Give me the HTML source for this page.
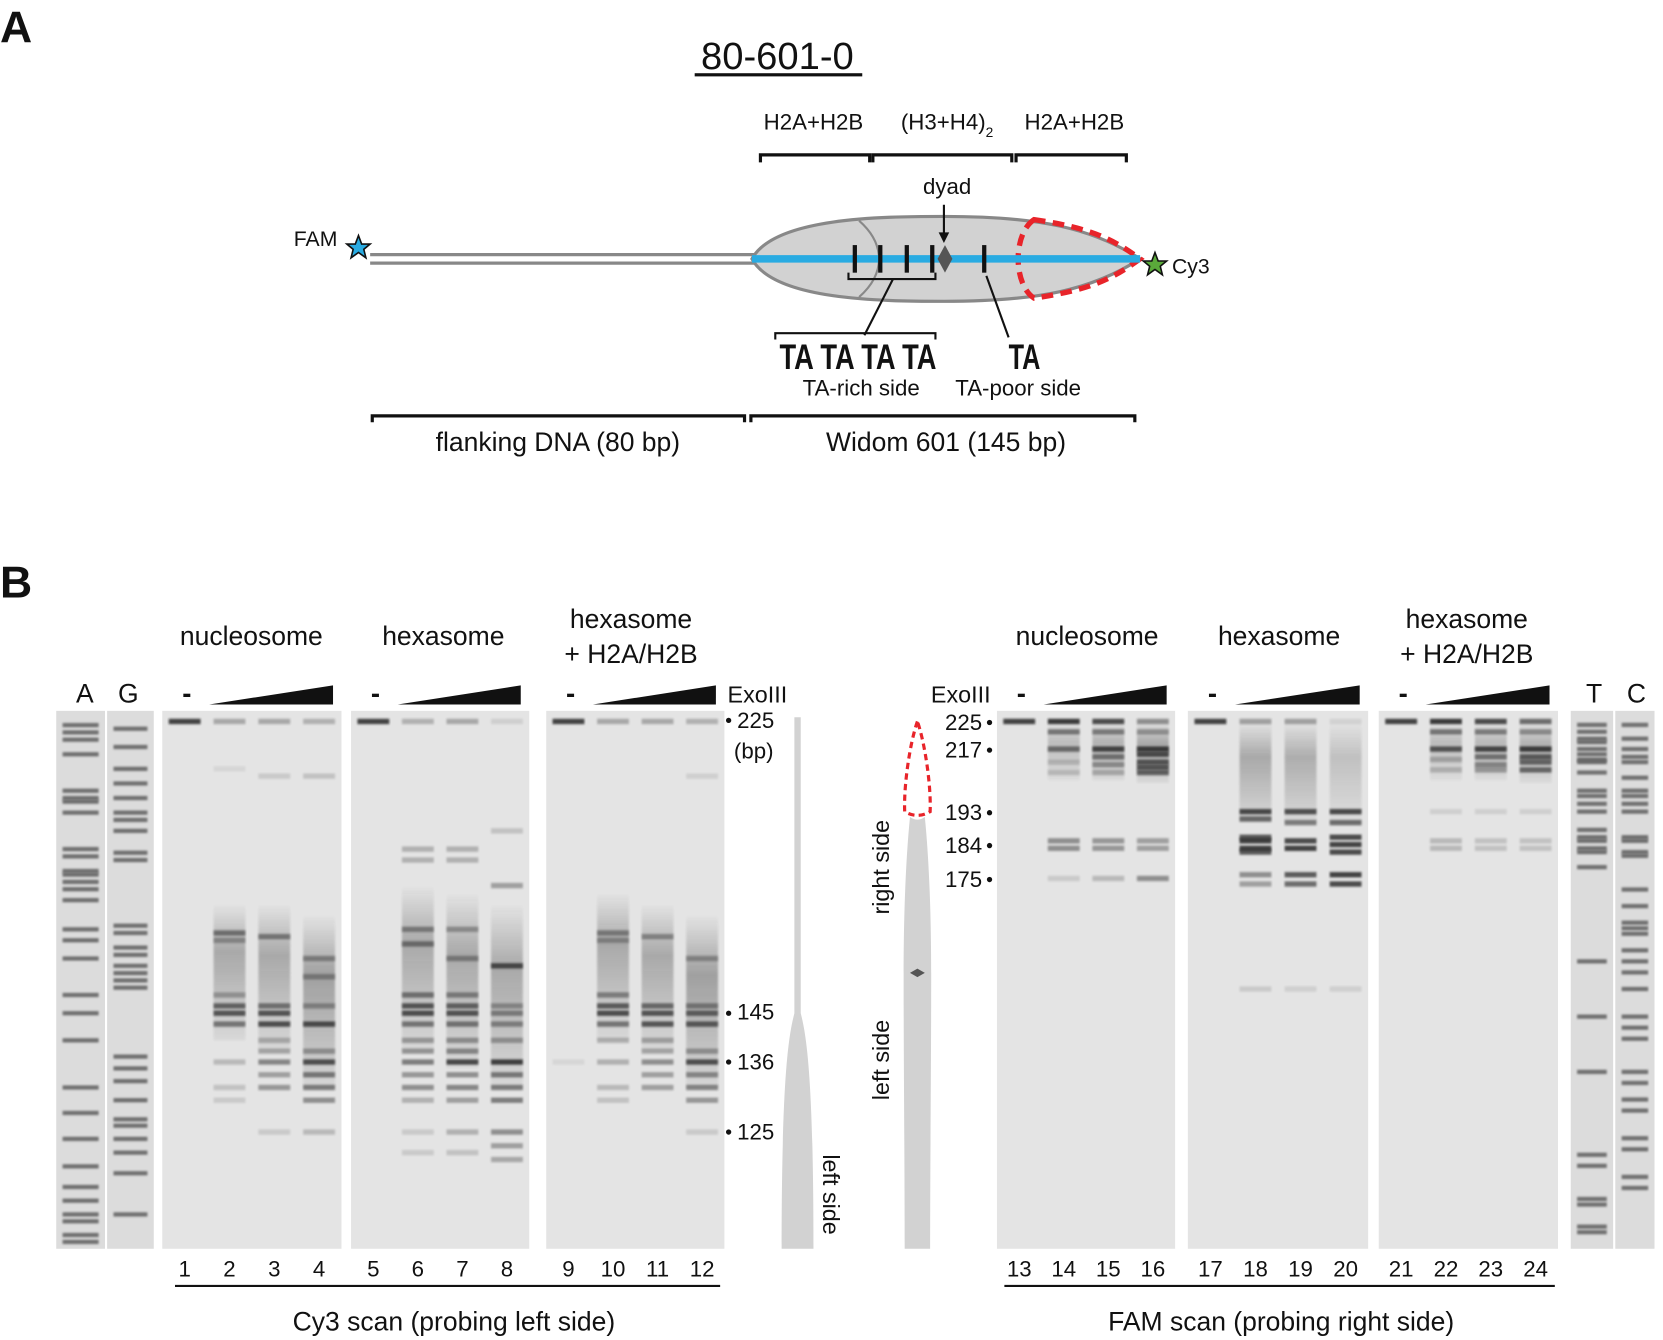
<!DOCTYPE html>
<html><head><meta charset="utf-8"><style>
html,body{margin:0;padding:0;background:#fff}
svg{display:block}
text{font-family:"Liberation Sans",Arial,sans-serif;fill:#111}
</style></head><body>
<svg id="fig" width="1663" height="1340" viewBox="0 0 1568 1263" preserveAspectRatio="none" xmlns="http://www.w3.org/2000/svg">
<defs>
<filter id="soft" x="-5%" y="-80%" width="110%" height="260%"><feGaussianBlur stdDeviation="1.1"/></filter>
<linearGradient id="smearG" x1="0" y1="0" x2="0" y2="1"><stop offset="0" stop-color="#222" stop-opacity="0"/><stop offset="0.35" stop-color="#222" stop-opacity="1"/><stop offset="1" stop-color="#222" stop-opacity="0.2"/></linearGradient>
</defs>
<!-- PANEL A -->
<g>
<text x="0" y="40" font-size="42" font-weight="bold">A</text>
<text x="733" y="65" font-size="36" text-anchor="middle">80-601-0</text>
<rect x="655" y="69" width="158" height="3" fill="#111"/>
<text x="767" y="122" font-size="21" text-anchor="middle">H2A+H2B</text>
<text x="893" y="122" font-size="21" text-anchor="middle">(H3+H4)<tspan font-size="13" dy="7">2</tspan></text>
<text x="1013" y="122" font-size="21" text-anchor="middle">H2A+H2B</text>
<g stroke="#111" stroke-width="3" fill="none">
<path d="M717 153V146H820V153"/><path d="M823 153V146H954V153"/><path d="M958 153V146H1062V153"/>
</g>
<text x="893" y="183" font-size="21" text-anchor="middle">dyad</text>
<line x1="349" y1="240" x2="712" y2="240" stroke="#888" stroke-width="3"/>
<line x1="349" y1="248" x2="712" y2="248" stroke="#888" stroke-width="3"/>
<path d="M709 244C730 205 830 204 890 204C980 204 1030 215 1075 244C1030 273 980 284 890 284C830 284 730 283 709 244Z" fill="#d2d2d2" stroke="#888" stroke-width="3"/>
<path d="M810 208C835 230 835 258 810 280" fill="none" stroke="#888" stroke-width="2"/>
<line x1="890" y1="193" x2="890" y2="222" stroke="#111" stroke-width="2"/>
<path d="M885 219L890 229L895 219Z" fill="#111"/>
<path d="M975 207C955 220 955 268 975 281C1030 273 1050 262 1075 244C1050 226 1030 215 975 207Z" fill="none" stroke="#e8242a" stroke-width="5" stroke-dasharray="11 7"/>
<line x1="709" y1="244" x2="1075" y2="244" stroke="#29abe2" stroke-width="7"/>
<g stroke="#111" stroke-width="4"><line x1="806" y1="231" x2="806" y2="257"/><line x1="830" y1="231" x2="830" y2="257"/><line x1="855" y1="231" x2="855" y2="257"/><line x1="879" y1="231" x2="879" y2="257"/><line x1="928" y1="231" x2="928" y2="257"/></g>
<path d="M891 231L898 244L891 257L884 244Z" fill="#555"/>
<path d="M800 257V263H882V257" fill="none" stroke="#111" stroke-width="2"/>
<line x1="842" y1="263" x2="815" y2="316" stroke="#111" stroke-width="2"/>
<line x1="930" y1="260" x2="951" y2="318" stroke="#111" stroke-width="2"/>
<path d="M731 320V314H882V320" fill="none" stroke="#111" stroke-width="2"/>
<text x="809" y="348" font-size="33" font-weight="bold" text-anchor="middle" textLength="148" lengthAdjust="spacingAndGlyphs">TA TA TA TA</text>
<text x="966" y="348" font-size="33" font-weight="bold" text-anchor="middle" textLength="30" lengthAdjust="spacingAndGlyphs">TA</text>
<text x="812" y="373" font-size="21" text-anchor="middle">TA-rich side</text>
<text x="960" y="373" font-size="21" text-anchor="middle">TA-poor side</text>
<path d="M351 398V392H702V398" fill="none" stroke="#111" stroke-width="3"/>
<path d="M708 398V392H1070V398" fill="none" stroke="#111" stroke-width="3"/>
<text x="526" y="425" font-size="25" text-anchor="middle">flanking DNA (80 bp)</text>
<text x="892" y="425" font-size="25" text-anchor="middle">Widom 601 (145 bp)</text>
<path d="M338 222L341 230L349 230L343 235L345 243L338 238L331 243L333 235L327 230L335 230Z" fill="#29abe2" stroke="#111" stroke-width="1.5"/>
<text x="277" y="232" font-size="20">FAM</text>
<path d="M1089 238L1092 246L1100 246L1094 251L1096 259L1089 254L1082 259L1084 251L1078 246L1086 246Z" fill="#5aaa3a" stroke="#111" stroke-width="1.5"/>
<text x="1105" y="258" font-size="20">Cy3</text>
</g>
<!-- PANEL B static -->
<g>
<text x="0" y="563" font-size="42" font-weight="bold">B</text>
<g font-size="25" text-anchor="middle">
<text x="237" y="608">nucleosome</text>
<text x="418" y="608">hexasome</text>
<text x="595" y="592">hexasome</text>
<text x="595" y="625">+ H2A/H2B</text>
<text x="1025" y="608">nucleosome</text>
<text x="1206" y="608">hexasome</text>
<text x="1383" y="592">hexasome</text>
<text x="1383" y="625">+ H2A/H2B</text>
<text x="80" y="662">A</text><text x="121" y="662">G</text>
<text x="1503" y="662">T</text><text x="1543" y="662">C</text>
</g>
<text x="686" y="662" font-size="22">ExoIII</text>
<text x="934" y="662" font-size="22" text-anchor="end">ExoIII</text>
<g font-size="21">
<text x="695" y="686">225</text><text x="692" y="715">(bp)</text>
<text x="695" y="961">145</text><text x="695" y="1008">136</text><text x="695" y="1074">125</text>
<circle cx="687" cy="679" r="2.5" fill="#111"/><circle cx="687" cy="955" r="2.5" fill="#111"/><circle cx="687" cy="1001" r="2.5" fill="#111"/><circle cx="687" cy="1067" r="2.5" fill="#111"/>
</g>
<g font-size="21" text-anchor="end">
<text x="926" y="688">225</text><text x="926" y="714">217</text><text x="926" y="773">193</text><text x="926" y="804">184</text><text x="926" y="836">175</text>
<circle cx="933" cy="681" r="2.5" fill="#111"/><circle cx="933" cy="707" r="2.5" fill="#111"/><circle cx="933" cy="766" r="2.5" fill="#111"/><circle cx="933" cy="797" r="2.5" fill="#111"/><circle cx="933" cy="829" r="2.5" fill="#111"/>
</g>
<path d="M749 676H755V955C760 975 767 1010 767 1177H737C737 1010 744 975 749 955Z" fill="#d2d2d2"/>
<text transform="translate(776,1088) rotate(90)" font-size="22">left side</text>
<path d="M858 770Q865 775 872 770C877 820 878 880 878 917C878 1000 877 1100 877 1177H853C853 1100 852 1000 852 917C852 880 853 820 858 770Z" fill="#d2d2d2"/>
<path d="M865 680C858 700 852 740 853 765Q865 772 877 765C878 740 872 700 865 680Z" fill="none" stroke="#e8242a" stroke-width="3" stroke-dasharray="6 4"/>
<path d="M865 913L872 917L865 921L858 917Z" fill="#555"/>
<text transform="translate(838,862) rotate(-90)" font-size="22">right side</text>
<text transform="translate(838,1037) rotate(-90)" font-size="22">left side</text>
<line x1="165" y1="1212" x2="679" y2="1212" stroke="#111" stroke-width="2"/>
<line x1="947" y1="1212" x2="1466" y2="1212" stroke="#111" stroke-width="2"/>
<text x="428" y="1254" font-size="25" text-anchor="middle">Cy3 scan (probing left side)</text>
<text x="1208" y="1254" font-size="25" text-anchor="middle">FAM scan (probing right side)</text>
</g>
<g id="gels"></g>
</svg>
<script>
// ----- data -----
const leftMarkerBp = [225,145,136,125,108];
const rightMarkerBp = [225,217,193,184,175,108];
const laneNumbers = [1,2,3,4,5,6,7,8,9,10,11,12,13,14,15,16,17,18,19,20,21,22,23,24];
// bands per lane: [bp, intensity]
const lane1 = [[225,0.95]];
const lane2 = [[225,0.35],[212,0.08],[167,0.6],[165,0.4],[150,0.35],[147,0.7],[145,0.8],[143,0.6],[136,0.25],[132,0.2],[130,0.15]];
const lane3 = [[225,0.35],[210,0.15],[166,0.55],[147,0.6],[145,0.8],[143,0.85],[140,0.3],[138,0.35],[136,0.55],[134,0.4],[132,0.45],[125,0.15]];
const lane4 = [[225,0.3],[210,0.2],[160,0.45],[155,0.4],[147,0.4],[143,0.85],[138,0.4],[136,0.85],[134,0.6],[132,0.6],[130,0.5],[125,0.25]];
const lane5 = [[225,0.95]];
const lane6 = [[225,0.3],[190,0.3],[187,0.3],[168,0.5],[164,0.55],[150,0.6],[147,0.8],[145,0.85],[143,0.6],[140,0.4],[138,0.45],[136,0.6],[134,0.45],[132,0.5],[130,0.3],[125,0.15],[122,0.15]];
const lane7 = [[225,0.35],[190,0.3],[187,0.3],[168,0.4],[160,0.45],[150,0.5],[147,0.7],[145,0.8],[143,0.6],[140,0.45],[138,0.5],[136,0.9],[134,0.5],[132,0.55],[130,0.4],[125,0.3],[122,0.2]];
const lane8 = [[225,0.12],[195,0.2],[180,0.4],[158,0.85],[147,0.4],[145,0.5],[143,0.5],[140,0.4],[136,0.95],[134,0.6],[132,0.6],[130,0.6],[125,0.5],[123,0.4],[121,0.35]];
const lane9 = [[225,0.95],[136,0.08]];
const lane10 = [[225,0.35],[167,0.5],[165,0.4],[150,0.5],[147,0.75],[145,0.85],[143,0.6],[140,0.3],[136,0.3],[132,0.25],[130,0.2]];
const lane11 = [[225,0.35],[166,0.45],[147,0.65],[145,0.8],[143,0.8],[140,0.35],[138,0.35],[136,0.5],[134,0.4],[132,0.4]];
const lane12 = [[225,0.3],[210,0.12],[160,0.4],[147,0.5],[145,0.7],[143,0.75],[138,0.4],[136,0.85],[134,0.5],[132,0.55],[130,0.45],[125,0.15]];
const lane13 = [[225,0.95]];
const lane14 = [[225,1],[222,0.6],[217,0.65],[212,0.2],[208,0.2],[185,0.5],[183,0.5],[175,0.15]];
const lane15 = [[225,0.9],[222,0.55],[217,0.9],[214,0.6],[211,0.45],[208,0.3],[185,0.45],[183,0.45],[175,0.25]];
const lane16 = [[225,0.5],[222,0.4],[217,0.95],[215,0.85],[212,0.8],[210,0.8],[208,0.75],[185,0.4],[183,0.4],[175,0.5]];
const lane17 = [[225,0.95]];
const lane18 = [[225,0.4],[193,0.9],[191,0.7],[186,0.8],[185,0.95],[183,0.95],[182,0.8],[176,0.5],[174,0.4],[155,0.15]];
const lane19 = [[225,0.4],[193,0.85],[190,0.6],[185,0.9],[183,0.95],[176,0.8],[174,0.7],[155,0.12]];
const lane20 = [[225,0.1],[193,0.9],[190,0.7],[186,0.9],[184,0.95],[182,0.9],[176,0.95],[174,0.9],[155,0.12]];
const lane21 = [[225,0.95]];
const lane22 = [[225,1],[222,0.6],[217,0.8],[213,0.3],[209,0.25],[193,0.12],[185,0.25],[183,0.25]];
const lane23 = [[225,0.9],[222,0.55],[217,0.9],[214,0.6],[211,0.5],[209,0.4],[193,0.12],[185,0.2],[183,0.2]];
const lane24 = [[225,0.7],[222,0.45],[217,0.95],[214,0.75],[212,0.7],[209,0.7],[193,0.12],[185,0.2],[183,0.2]];
const laneBands = [lane1,lane2,lane3,lane4,lane5,lane6,lane7,lane8,lane9,lane10,lane11,lane12,lane13,lane14,lane15,lane16,lane17,lane18,lane19,lane20,lane21,lane22,lane23,lane24];
// smears: [topBp, bottomBp, intensity] per lane (null = none)
const laneSmears = [null,[175,140,0.3],[175,138,0.3],[172,132,0.35],null,[180,138,0.3],[178,135,0.3],[175,132,0.3],null,[178,140,0.3],[175,138,0.3],[172,132,0.35],
                    null,[225,205,0.2],[225,205,0.25],[225,204,0.3],null,[225,190,0.3],[225,190,0.28],[225,190,0.18],null,[225,205,0.2],[225,205,0.22],[225,204,0.25]];
const ladderA = [224,222,220,216,206,204,203,200,190,188,184,183,181,179,176,168,165,160,150,145,140,132,128,124,120,117,115,113,112,110,109];
const ladderG = [223,218,212,208,204,200,198,195,189,187,169,167,163,161,158,156,154,152,137,135,133,130,127,126,124,122,119,113];
const ladderT = [224,222,220,219,217,215,213,212,208,201,199,196,193,188,186,185,183,182,178,160,150,140,125,123,117,116,112,111];
const ladderC = [224,220,217,214,212,206,201,199,196,193,186,185,182,181,173,170,167,166,165,162,160,158,155,150,148,146,140,138,135,133,128,126,121,119];

// ----- axes -----
const leftMarkerY = [680,955,1001,1067,1177];
const rightMarkerY = [680,706,765,796,828,1177];
function interp(bp, bps, ys){
  for(let i=0;i<bps.length-1;i++){
    if(bp<=bps[i] && bp>=bps[i+1]){const t=(bps[i]-bp)/(bps[i]-bps[i+1]);return ys[i]+t*(ys[i+1]-ys[i]);}
  }
  return bp>bps[0]?ys[0]:ys[ys.length-1];
}
function yLeft(bp){return interp(bp,leftMarkerBp,leftMarkerY);}
function yRight(bp){return interp(bp,rightMarkerBp,rightMarkerY);}

const NS="http://www.w3.org/2000/svg";
const gels=document.getElementById('gels');
function mk(tag,attrs,parent){const e=document.createElementNS(NS,tag);for(const k in attrs)e.setAttribute(k,attrs[k]);(parent||gels).appendChild(e);return e;}

const gelBoxes=[[153,322,0],[331,499,4],[515,683,8],[940,1108,12],[1120,1290,16],[1300,1469,20]];
gelBoxes.forEach((g,gi)=>{
  const grp=mk('g',{});
  
  
  mk('rect',{x:g[0],y:670,width:g[1]-g[0],height:507,fill:'#e4e4e4'},grp);
  const w=(g[1]-g[0])/4;
  const yf=gi<3?yLeft:yRight;
  for(let l=0;l<4;l++){
    const li=g[2]+l;
    const cx=g[0]+w*(l+0.5);
    const lg=mk('g',{},grp);
    
    
    const sm=laneSmears[li];
    if(sm){
      const y0=yf(sm[0]),y1=yf(sm[1]);
      mk('rect',{x:cx-15,y:y0,width:30,height:y1-y0,fill:'url(#smearG)',opacity:sm[2],filter:'url(#soft)'},lg);
    }
    laneBands[li].forEach(b=>{
      const r=mk('rect',{x:cx-15,y:yf(b[0])-2.5,width:30,height:5,fill:'#1a1a1a',opacity:b[1]*0.85,filter:'url(#soft)'},lg);
      
      
    });
    const t=mk('text',{x:cx,y:1203,'font-size':21,'text-anchor':'middle'},gels);
    t.textContent=laneNumbers[li];
    
    
  }
  const m=mk('text',{x:g[0]+w*0.5+2,y:662,'font-size':26,'text-anchor':'middle','font-weight':'bold'},gels);
  m.textContent='-';
  
  
  const wd=mk('path',{d:`M${g[0]+w+2} 664L${g[1]-8} 646L${g[1]-8} 664Z`,fill:'#111'},gels);
  
  
});
const ladders=[[53,99,ladderA,yLeft,'ladder-a'],[101,145,ladderG,yLeft,'ladder-g'],[1481,1521,ladderT,yRight,'ladder-t'],[1523,1560,ladderC,yRight,'ladder-c']];
ladders.forEach(L=>{
  const grp=mk('g',{});
  
  
  mk('rect',{x:L[0],y:670,width:L[1]-L[0],height:507,fill:'#dcdcdc'},grp);
  L[2].forEach(bp=>{
    const r=mk('rect',{x:L[0]+6,y:L[3](bp)-2,width:L[1]-L[0]-12,height:4,fill:'#555',opacity:0.8,filter:'url(#soft)'},grp);
    
    
  });
});
</script>
</body></html>
